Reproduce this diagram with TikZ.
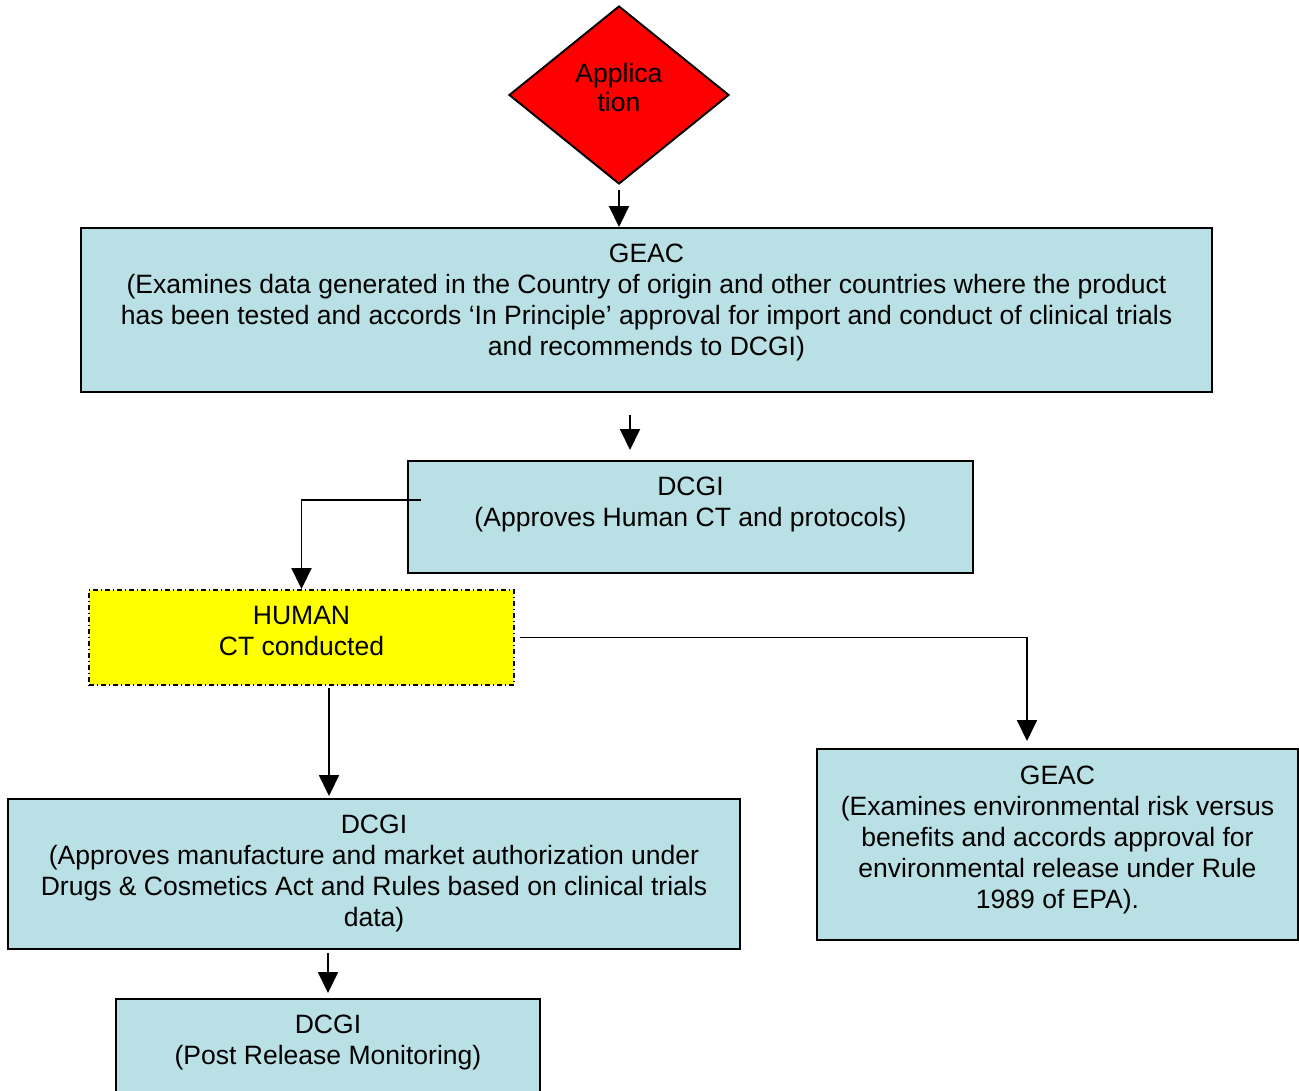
\documentclass[tikz,border=0pt]{standalone}
\usepackage{fontspec}
\setmainfont{Liberation Sans}
\usetikzlibrary{arrows.meta, shapes.geometric, calc}
\definecolor{boxblue}{RGB}{185,224,228}
\definecolor{boxyellow}{RGB}{255,255,0}
\definecolor{boxred}{RGB}{255,0,0}

\begin{document}
\begin{tikzpicture}[x=0.02cm, y=-0.02cm,
		box/.style={draw, line width=1.1pt, fill=boxblue, inner sep=0pt},
		txt/.style={align=center, inner sep=0pt, anchor=north, font=\fontsize{15.1}{17.6}\selectfont},
		arr/.style={line width=1.1pt, -{Triangle[length=0.42cm, width=0.4cm]}}]
		\def\u{0.02cm}
		
		\clip (0,0) rectangle (1299,1091);
		
		\node[diamond, draw, line width=1.1pt, fill=boxred, minimum width=220*\u, minimum height=178*\u, inner sep=0pt] (app) at (619,95) {};
		\node[txt, font=\fontsize{15.1}{17}\selectfont] (app-t) at (619,62.5) {Applica\\tion};
		
		\node[box, minimum width=1131*\u, minimum height=164*\u] (geac) at (646.5,310) {};
		\node[box, minimum width=565*\u, minimum height=112*\u] (dcgi) at (690.5,517) {};
		\node[draw, line width=1.1pt, fill=boxyellow, inner sep=0pt, dash pattern=on 0.1cm off 0.06cm on 0.02cm off 0.06cm, minimum width=425*\u, minimum height=95*\u] (human) at (301.5,637.5) {};
		\node[box, minimum width=481*\u, minimum height=191*\u] (geac2) at (1057.5,844.5) {};
		\node[box, minimum width=732*\u, minimum height=150*\u] (dcgi2) at (374,874) {};
		\node[box, minimum width=424*\u, minimum height=141*\u] (dcgi3) at (328,1069.5) {};
		
		\node[txt] (geac-t) at ([yshift=-0.34cm]geac.north) {GEAC\\(Examines data generated in the Country of origin and other countries where the product\\has been tested and accords ‘In Principle’ approval for import and conduct of clinical trials\\and recommends to DCGI)};
		\node[txt] (dcgi-t) at ([yshift=-0.34cm]dcgi.north) {DCGI\\(Approves Human CT and protocols)};
		\node[txt] (human-t) at ([yshift=-0.34cm]human.north) {HUMAN\\CT conducted};
		\node[txt] (geac2-t) at ([yshift=-0.35cm]geac2.north) {GEAC\\(Examines environmental risk versus\\benefits and accords approval for\\environmental release under Rule\\1989 of EPA).};
		\node[txt] (dcgi2-t) at ([yshift=-0.34cm]dcgi2.north) {DCGI\\(Approves manufacture and market authorization under\\Drugs \& Cosmetics Act and Rules based on clinical trials\\data)};
		\node[txt] (dcgi3-t) at ([yshift=-0.34cm]dcgi3.north) {DCGI\\(Post Release Monitoring)};
		
		\coordinate (a1) at (630,415);
		\coordinate (a2) at (630,450);
		\coordinate (c1) at (421,500);
		\coordinate (c2) at (1027,741);
		\coordinate (c3) at (329,688);
		
		\draw[arr] ([yshift=-0.1cm]app.south) -- (app.south |- geac.north);
		\draw[arr] (a1) -- (a2);
		\draw[arr] (c1) -| (human.north);
		\draw[arr] ([xshift=0.1cm]human.east) -| (c2);
		\draw[arr] (c3) -- ($(c3 |- dcgi2.north)+(0,-2)$);
		\draw[arr] ([yshift=-0.06cm]dcgi2.south -| dcgi3) -- ([yshift=0.1cm]dcgi3.north);
	\end{tikzpicture}
\end{document}
